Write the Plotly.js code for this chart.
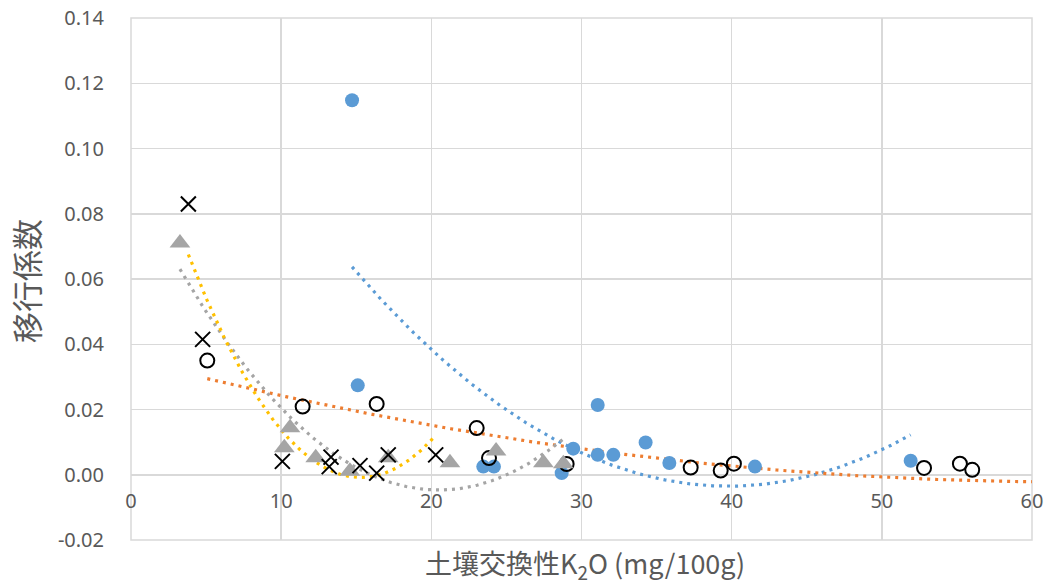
<!DOCTYPE html>
<html>
<head>
<meta charset="utf-8">
<script src="https://cdn.plot.ly/plotly-3.0.1.min.js"></script>
<style>html,body{margin:0;padding:0;background:#fff;}#chart{width:1051px;height:586px;}</style>
</head>
<body>
<div id="chart"></div>
<script>
// Series 1: filled blue circles
const blueX = [14.72, 15.10, 23.46, 24.17, 28.68, 29.45, 31.08, 31.08, 32.12, 34.27, 35.85, 41.55, 51.92];
const blueY = [0.1148, 0.0274, 0.0025, 0.0025, 0.0005, 0.0080, 0.0214, 0.0061, 0.0061, 0.0099, 0.0036, 0.0025, 0.0043];
// Series 2: open black circles
const openX = [5.08, 11.43, 16.36, 23.02, 23.84, 29.01, 37.27, 39.27, 40.15, 52.81, 55.20, 56.02];
const openY = [0.0350, 0.0209, 0.0217, 0.0143, 0.0051, 0.0033, 0.0022, 0.0013, 0.0034, 0.0021, 0.0034, 0.0015];
// Series 3: gray triangles
const triX = [3.26, 10.59, 10.21, 12.30, 14.58, 17.13, 21.24, 24.31, 27.46, 28.79];
const triY = [0.0710, 0.0144, 0.0083, 0.0052, 0.0011, 0.0052, 0.0037, 0.0073, 0.0037, 0.0034];
// Series 4: black crosses
const crossX = [3.82, 4.77, 10.08, 13.32, 13.20, 15.25, 16.36, 17.13, 20.29];
const crossY = [0.0830, 0.0415, 0.0041, 0.0054, 0.0025, 0.0028, 0.0005, 0.0061, 0.0061];

// Orange (series 2) polynomial trendline equation: c0 + c1*x + c2*x^2, forecast to 60
const openTrendCoef = [0.0353, -0.00120, 0.0000096];
const openTrendEnd = 60;

const xTickVals = [0, 10, 20, 30, 40, 50, 60];
const xTickText = ['0', '10', '20', '30', '40', '50', '60'];
const yTickVals = [-0.02, 0, 0.02, 0.04, 0.06, 0.08, 0.10, 0.12, 0.14];
const yTickText = ['-0.02', '0.00', '0.02', '0.04', '0.06', '0.08', '0.10', '0.12', '0.14'];

const xTitle = '土壤交換性K<sub>2</sub>O (mg/100g)';
const yTitle = '移行係数';

// least-squares polynomial fit (Excel-style trendline)
function polyfit(xs, ys, order) {
  const n = order + 1;
  const A = [], b = [];
  for (let i = 0; i < n; i++) { A.push(new Array(n).fill(0)); b.push(0); }
  for (let k = 0; k < xs.length; k++) {
    for (let i = 0; i < n; i++) {
      b[i] += ys[k] * Math.pow(xs[k], i);
      for (let j = 0; j < n; j++) A[i][j] += Math.pow(xs[k], i + j);
    }
  }
  for (let i = 0; i < n; i++) {
    let p = i;
    for (let r = i + 1; r < n; r++) if (Math.abs(A[r][i]) > Math.abs(A[p][i])) p = r;
    [A[i], A[p]] = [A[p], A[i]]; [b[i], b[p]] = [b[p], b[i]];
    for (let r = i + 1; r < n; r++) {
      const f = A[r][i] / A[i][i];
      for (let c = i; c < n; c++) A[r][c] -= f * A[i][c];
      b[r] -= f * b[i];
    }
  }
  const coef = new Array(n).fill(0);
  for (let i = n - 1; i >= 0; i--) {
    let s = b[i];
    for (let c = i + 1; c < n; c++) s -= A[i][c] * coef[c];
    coef[i] = s / A[i][i];
  }
  return coef;
}
function curve(c, x0, x1, color) {
  const tx = [], ty = [];
  const N = 200;
  for (let i = 0; i <= N; i++) {
    const x = x0 + (x1 - x0) * i / N;
    let y = 0;
    for (let k = 0; k < c.length; k++) y += c[k] * Math.pow(x, k);
    tx.push(x); ty.push(y);
  }
  return {x: tx, y: ty, type: 'scatter', mode: 'lines', hoverinfo: 'skip',
    line: {color: color, width: 3.2, dash: '3px,5px'}};
}
const mn = a => Math.min(...a), mx = a => Math.max(...a);

const traces = [
  curve(polyfit(blueX, blueY, 2), mn(blueX), mx(blueX), '#5B9BD5'),
  curve(openTrendCoef, mn(openX), openTrendEnd, '#ED7D31'),
  curve(polyfit(triX, triY, 2), mn(triX), mx(triX), '#A5A5A5'),
  curve(polyfit(crossX, crossY, 2), mn(crossX), mx(crossX), '#FFC000'),
  {x: blueX, y: blueY, type: 'scatter', mode: 'markers',
    marker: {symbol: 'circle', size: 14, color: '#5B9BD5'}},
  {x: openX, y: openY, type: 'scatter', mode: 'markers',
    marker: {symbol: 'circle-open', size: 14, color: '#000000', line: {width: 2, color: '#000000'}}},
  {x: triX, y: triY, type: 'scatter', mode: 'markers',
    marker: {symbol: 'triangle-up', size: 18, color: '#A5A5A5'}},
  {x: crossX, y: crossY, type: 'scatter', mode: 'markers',
    marker: {symbol: 'x-thin', size: 15, color: '#000000', line: {width: 2, color: '#000000'}}}
];

const tickFont = {family: 'Noto Sans, Open Sans, sans-serif', size: 20, color: '#595959'};
const xTitleFont = {family: 'Noto Sans CJK JP, Noto Sans, sans-serif', size: 27, color: '#595959'};
const yTitleFont = {family: 'Noto Sans CJK JP, Noto Sans, sans-serif', size: 31, color: '#595959'};

const layout = {
  width: 1051, height: 586,
  margin: {l: 131, r: 19, t: 18, b: 46},
  paper_bgcolor: '#ffffff', plot_bgcolor: '#ffffff',
  showlegend: false,
  xaxis: {
    range: [0, 60], tickvals: xTickVals, ticktext: xTickText,
    showgrid: true, gridcolor: '#D9D9D9', gridwidth: 1.5,
    zeroline: false, showline: false, ticks: '',
    anchor: 'free', position: 0.125, ticklabelstandoff: 12,
    tickfont: tickFont
  },
  yaxis: {
    range: [-0.02, 0.14], tickvals: yTickVals, ticktext: yTickText,
    showgrid: true, gridcolor: '#D9D9D9', gridwidth: 1.5,
    zeroline: false, showline: false, ticks: '',
    ticklabelstandoff: 26,
    tickfont: tickFont
  },
  shapes: [
    {type: 'rect', xref: 'paper', yref: 'paper', x0: 0, x1: 1, y0: 0, y1: 1,
      line: {color: '#D9D9D9', width: 1.5}, layer: 'below'}
  ],
  annotations: [
    {text: xTitle, xref: 'paper', yref: 'paper', x: 0.5, y: 0, yshift: -24, xshift: 3,
      xanchor: 'center', yanchor: 'middle', showarrow: false, font: xTitleFont},
    {text: yTitle, xref: 'paper', yref: 'paper', x: 0, xshift: -106, y: 0.5, yshift: -2,
      xanchor: 'center', yanchor: 'middle', textangle: -90, showarrow: false, font: yTitleFont}
  ]
};

Plotly.newPlot('chart', traces, layout, {displayModeBar: false, staticPlot: true});
</script>
</body>
</html>
